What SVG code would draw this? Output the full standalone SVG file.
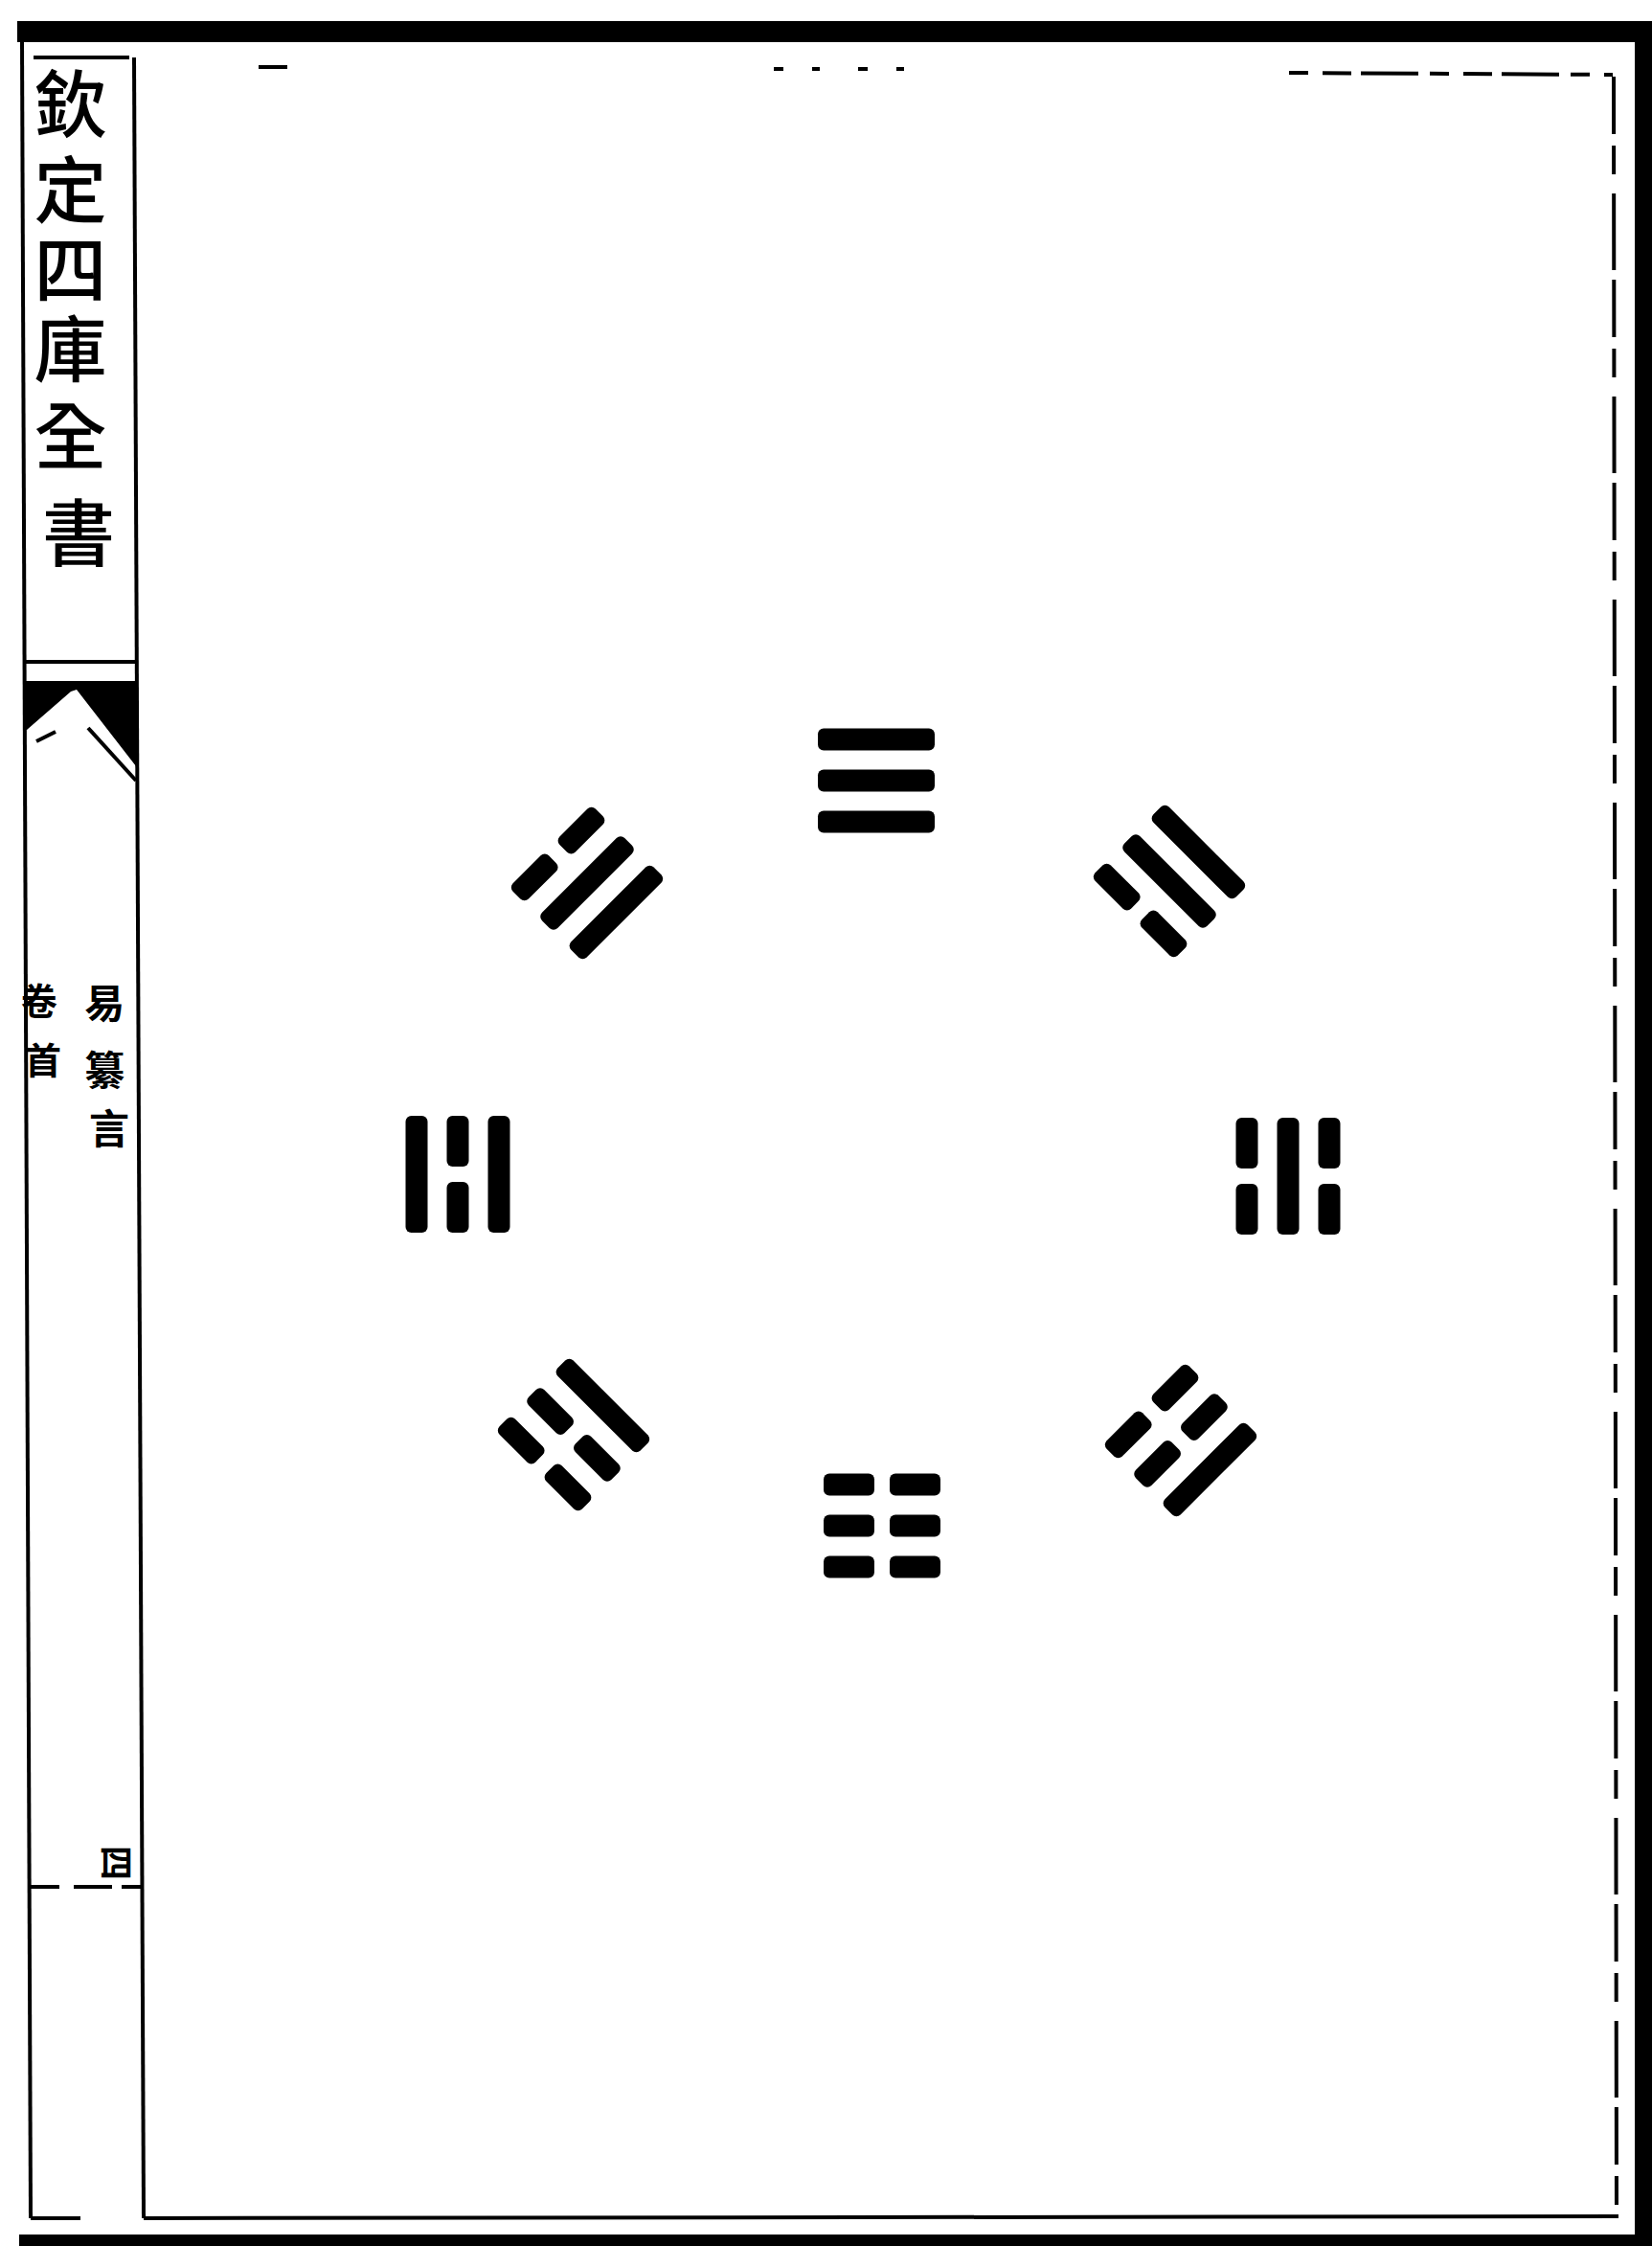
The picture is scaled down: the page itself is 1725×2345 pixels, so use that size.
<svg xmlns="http://www.w3.org/2000/svg" width="1725" height="2345" viewBox="0 0 1725 2345">
  <style>
    .thin { stroke: #000; stroke-width: 4; fill: none; }
    .cjk { font-family: "Noto Sans CJK TC", "Noto Sans CJK SC", sans-serif; fill: #000; text-anchor: middle; }
  </style>
  <defs>
    <rect id="solid" x="-61" y="-11.5" width="122" height="23" rx="6"/>
    <g id="broken">
      <rect x="-61" y="-11.5" width="53" height="23" rx="6"/>
      <rect x="8" y="-11.5" width="53" height="23" rx="6"/>
    </g>
  </defs>
  <rect width="1725" height="2345" fill="#fff"/>

  <g id="page-frame">
    <rect x="18" y="22" width="1707" height="22" fill="#000"/>
    <rect x="1707" y="22" width="18" height="2323" fill="#000"/>
    <rect x="20" y="2333" width="1705" height="12" fill="#000"/>
    <line class="thin" x1="23" y1="44" x2="32" y2="2316"/>
    <line class="thin" x1="140" y1="60" x2="150" y2="2316"/>
    <line class="thin" x1="32" y1="2316" x2="84" y2="2316"/>
    <line class="thin" x1="150" y1="2316" x2="1690" y2="2314"/>
    <line class="thin" x1="1685" y1="80" x2="1688" y2="2314" stroke-dasharray="60 12 30 20 80 10"/>
    <line class="thin" x1="270" y1="70" x2="300" y2="70"/>
    <line class="thin" x1="808" y1="72" x2="975" y2="72" stroke-dasharray="10 30 8 40"/>
    <line class="thin" x1="1346" y1="76" x2="1684" y2="78" stroke-dasharray="20 15 30 10 60 12"/>
    <line class="thin" x1="35" y1="60" x2="135" y2="60"/>
    <line class="thin" x1="24" y1="691" x2="142" y2="691"/>
    <line class="thin" x1="32" y1="1970" x2="150" y2="1970" stroke-dasharray="30 15 40 10"/>
  </g>

  <g id="fish-tail">
    <path d="M25,711 L142,711 L142,800 L80,720 L74,722 L28,762 L25,762 Z" fill="#000"/>
    <line class="thin" x1="38" y1="774" x2="58" y2="764"/>
    <line class="thin" x1="92" y1="760" x2="142" y2="815"/>
  </g>

  <g id="column-text">
    <text id="title" class="cjk" font-size="76" font-weight="500">
      <tspan x="82" y="137">欽</tspan>
      <tspan x="82" y="227">定</tspan>
      <tspan x="82" y="310">四</tspan>
      <tspan x="82" y="393">庫</tspan>
      <tspan x="82" y="484">全</tspan>
      <tspan x="82" y="585">書</tspan>
    </text>
    <text id="book-name" class="cjk" font-size="42" font-weight="700">
      <tspan x="114" y="1063">易</tspan>
      <tspan x="114" y="1133">纂</tspan>
      <tspan x="114" y="1194">言</tspan>
    </text>
    <text id="volume" class="cjk" font-size="38" font-weight="700">
      <tspan x="45" y="1059">卷</tspan>
      <tspan x="45" y="1121">首</tspan>
    </text>
    <text id="page-no" class="cjk" font-size="36" font-weight="700" transform="translate(121,1945) rotate(90)" x="0" y="13">四</text>
  </g>

  <g id="trigrams">
    <g id="qian" transform="translate(915,815)">
      <use href="#solid" y="-43"/><use href="#solid"/><use href="#solid" y="43"/>
    </g>
    <g id="dui" transform="translate(613,922) rotate(-45)">
      <use href="#broken" y="-43"/><use href="#solid"/><use href="#solid" y="43"/>
    </g>
    <g id="li" transform="translate(478,1226) rotate(-90)">
      <use href="#solid" y="-43"/><use href="#broken"/><use href="#solid" y="43"/>
    </g>
    <g id="zhen" transform="translate(599,1498) rotate(-135)">
      <use href="#broken" y="-43"/><use href="#broken"/><use href="#solid" y="43"/>
    </g>
    <g id="xun" transform="translate(1221,920) rotate(45)">
      <use href="#solid" y="-43"/><use href="#solid"/><use href="#broken" y="43"/>
    </g>
    <g id="kan" transform="translate(1345,1228) rotate(90)">
      <use href="#broken" y="-43"/><use href="#solid"/><use href="#broken" y="43"/>
    </g>
    <g id="gen" transform="translate(1233,1504) rotate(135)">
      <use href="#solid" y="-43"/><use href="#broken"/><use href="#broken" y="43"/>
    </g>
    <g id="kun" transform="translate(921,1593) rotate(180)">
      <use href="#broken" y="-43"/><use href="#broken"/><use href="#broken" y="43"/>
    </g>
  </g>
</svg>
